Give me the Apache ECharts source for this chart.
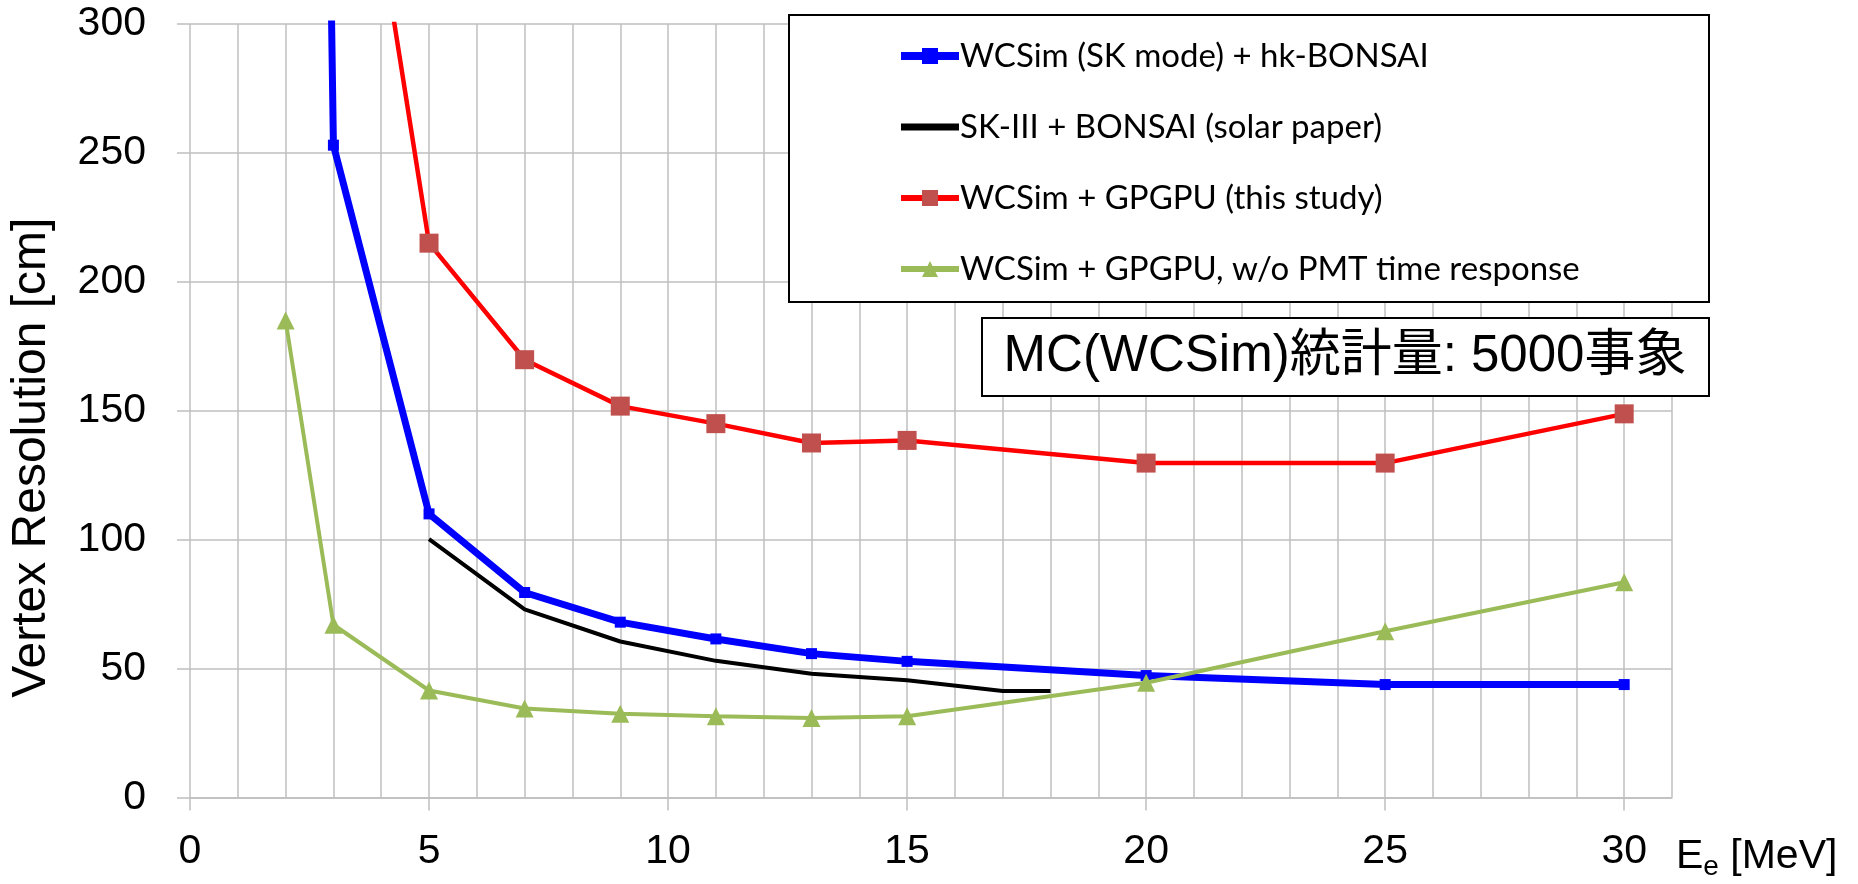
<!DOCTYPE html>
<html>
<head>
<meta charset="utf-8">
<script src="https://cdn.jsdelivr.net/npm/echarts@6/dist/echarts.min.js"></script>
<style>
html,body{margin:0;padding:0;background:#fff;}
#chart{width:1858px;height:884px;}
</style>
</head>
<body>
<div id="chart"></div>
<script>
// ---- data ----
const seriesNames = [
  'WCSim (SK mode) + hk-BONSAI',
  'SK-III + BONSAI (solar paper)',
  'WCSim + GPGPU (this study)',
  'WCSim + GPGPU, w/o PMT time response'
];
const xBlue  = [2, 3, 5, 7, 9, 11, 13, 15, 20, 25, 30];
const yBlue  = [1500, 253, 110, 79.5, 68, 61.5, 55.8, 52.8, 47.3, 43.8, 43.8];
const xBlack = [5, 7, 9, 11, 13, 15, 17, 18];
const yBlack = [100.2, 73, 60.5, 53, 48, 45.5, 41.3, 41.3];
const xRed   = [3, 5, 7, 9, 11, 13, 15, 20, 25, 30];
const yRed   = [450, 215, 169.8, 151.8, 145, 137.5, 138.5, 129.7, 129.7, 148.8];
const xGreen = [2, 3, 5, 7, 9, 11, 13, 15, 20, 25, 30];
const yGreen = [185, 67, 41.5, 34.5, 32.5, 31.5, 30.8, 31.5, 44.5, 64.5, 83.5];
const xTickLabels = [0, 5, 10, 15, 20, 25, 30];
const yAxisName = 'Vertex Resolution [cm]';
const annotation = 'MC(WCSim)統計量: 5000事象';

const pairs = (xs, ys) => xs.map((x, i) => [x, ys[i]]);

const tickFont = '"Liberation Sans Narrow", "Liberation Sans", Arial, sans-serif';
const gridColor = '#BFBFBF';

const chart = echarts.init(document.getElementById('chart'), null, {renderer: 'canvas'});

const option = {
  animation: false,
  backgroundColor: '#fff',
  grid: {left: 186, right: 186, top: 24, bottom: 86.5, containLabel: false},
  xAxis: [
    {
      type: 'value', min: 0, max: 31, interval: 1,
      axisLine: {show: true, lineStyle: {color: gridColor, width: 1.5}},
      axisTick: {show: false},
      axisLabel: {show: false},
      splitLine: {show: true, lineStyle: {color: gridColor, width: 1.5}}
    },
    {
      type: 'value', min: 0, max: 31, interval: 5, position: 'bottom',
      axisLine: {show: false},
      axisTick: {show: true, length: 13, lineStyle: {color: gridColor, width: 1.5}, customValues: xTickLabels},
      axisLabel: {
        show: true, margin: 34, color: '#000', fontSize: 41, fontFamily: tickFont,
        customValues: xTickLabels,
        formatter: v => (v % 5 === 0 && v <= 30) ? String(v) : ''
      },
      splitLine: {show: false},
      name: '{a|E}{b|e}{a| [MeV]}',
      nameLocation: 'end',
      nameGap: 4,
      nameTextStyle: {
        verticalAlign: 'top',
        padding: [34, 0, 0, 0],
        rich: {
          a: {fontSize: 41, fontFamily: tickFont, color: '#000'},
          b: {fontSize: 28, fontFamily: tickFont, color: '#000', verticalAlign: 'bottom', padding: [22, 0, 0, 0]}
        }
      }
    }
  ],
  yAxis: {
    type: 'value', min: 0, max: 300, interval: 50,
    axisLine: {show: false},
    axisTick: {show: true, length: 13, lineStyle: {color: gridColor, width: 1.5}},
    axisLabel: {margin: 44, color: '#000', fontSize: 41, fontFamily: tickFont},
    splitLine: {show: true, lineStyle: {color: gridColor, width: 1.5}},
    name: yAxisName,
    nameLocation: 'middle',
    nameRotate: 90,
    nameGap: 134,
    nameTextStyle: {fontSize: 48, fontFamily: '"Liberation Sans", Arial, sans-serif', color: '#000', padding: [0, 94, 0, 0]}
  },
  legend: {
    show: true,
    orient: 'vertical',
    left: 897, top: 38,
    itemWidth: 58, itemHeight: 20,
    itemGap: 35,
    padding: 0,
    borderWidth: 0,
    backgroundColor: 'transparent',
    z: 5,
    textStyle: {fontSize: 33, fontFamily: 'Lato, "Open Sans", sans-serif', color: '#000', lineHeight: 36, padding: [0, 0, 0, -4]},
    data: [
      {name: seriesNames[0], lineStyle: {width: 8, color: '#0000FF'}, itemStyle: {color: '#0000FF'}},
      {name: seriesNames[1], lineStyle: {width: 7, color: '#000000'}, itemStyle: {color: 'rgba(0,0,0,0)', opacity: 0}},
      {name: seriesNames[2], lineStyle: {width: 6, color: '#FF0000'}, itemStyle: {color: '#C0504D'}},
      {name: seriesNames[3], lineStyle: {width: 6, color: '#9BBB59'}, itemStyle: {color: '#9BBB59'}}
    ]
  },
  graphic: [
    {
      type: 'rect', z: 3, silent: true,
      shape: {x: 789, y: 15, width: 920, height: 287},
      style: {fill: '#fff', stroke: '#000', lineWidth: 2}
    },
    {
      type: 'group', z: 3, silent: true,
      children: [
        {type: 'rect', shape: {x: 982, y: 318, width: 727, height: 78}, style: {fill: '#fff', stroke: '#000', lineWidth: 2}, z: 3},
        {type: 'text', x: 1345, y: 357, z: 4,
          style: {text: annotation, fill: '#000', fontSize: 51,
            fontFamily: '"Liberation Sans", "Noto Sans CJK JP", sans-serif',
            align: 'center', verticalAlign: 'middle'}}
      ]
    }
  ],
  series: [
    {
      name: seriesNames[0], type: 'line', xAxisIndex: 0,
      data: pairs(xBlue, yBlue),
      symbol: 'rect', symbolSize: 11, showAllSymbol: true,
      lineStyle: {color: '#0000FF', width: 7},
      itemStyle: {color: '#0000FF'},
      clip: true, z: 2
    },
    {
      name: seriesNames[1], type: 'line', xAxisIndex: 0,
      data: pairs(xBlack, yBlack),
      symbol: 'none',
      lineStyle: {color: '#000000', width: 4},
      itemStyle: {color: '#000000'},
      clip: true, z: 2
    },
    {
      name: seriesNames[2], type: 'line', xAxisIndex: 0,
      data: pairs(xRed, yRed),
      symbol: 'rect', symbolSize: 19,
      lineStyle: {color: '#FF0000', width: 4.5},
      itemStyle: {color: '#C0504D'},
      clip: true, z: 2
    },
    {
      name: seriesNames[3], type: 'line', xAxisIndex: 0,
      data: pairs(xGreen, yGreen),
      symbol: 'triangle', symbolSize: 18,
      lineStyle: {color: '#9BBB59', width: 4},
      itemStyle: {color: '#9BBB59'},
      clip: true, z: 3
    }
  ]
};
chart.setOption(option);
</script>
</body>
</html>
